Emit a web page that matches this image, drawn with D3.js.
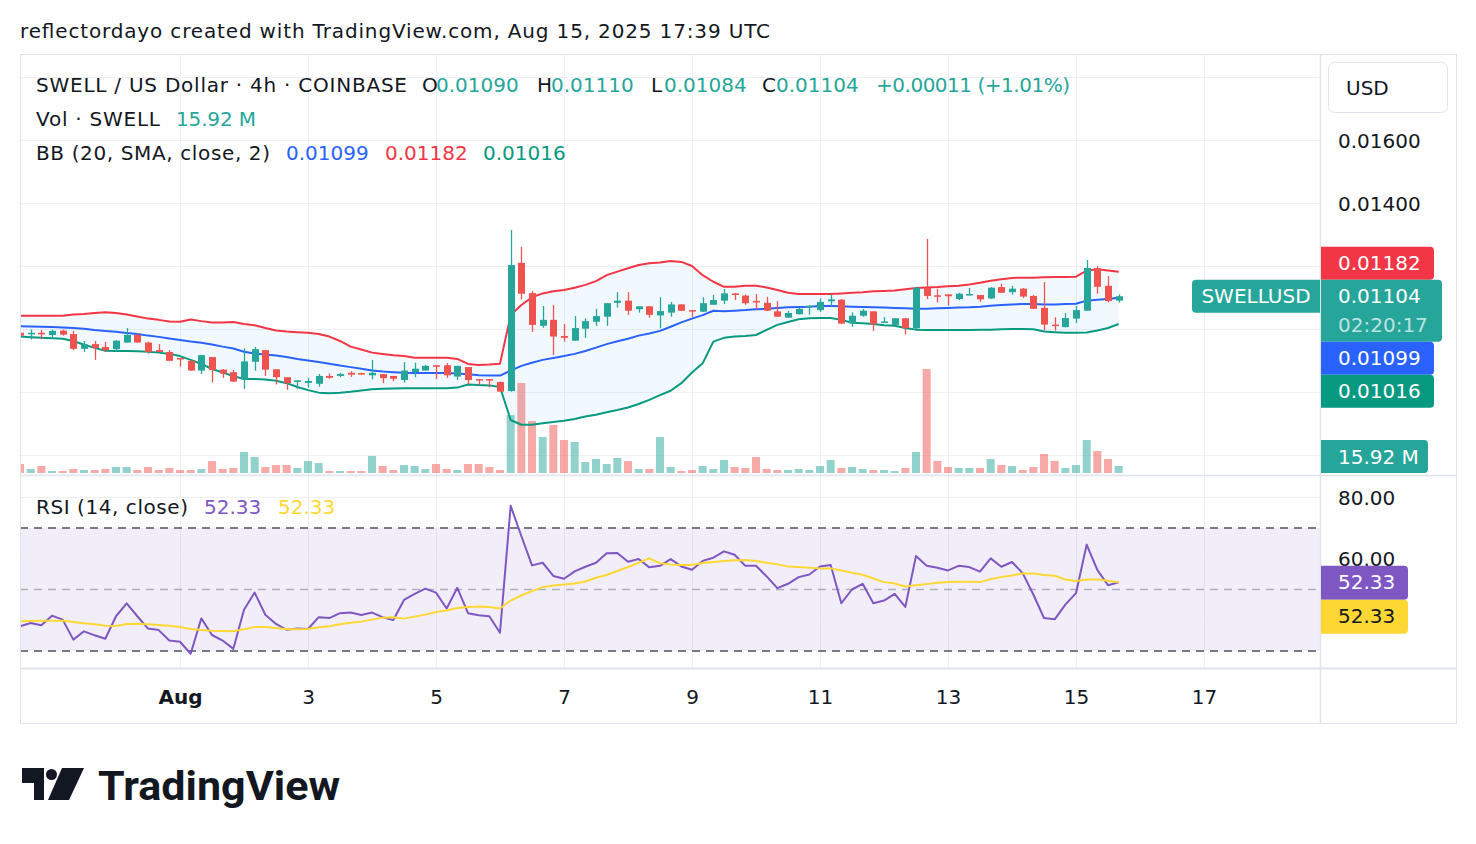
<!DOCTYPE html>
<html><head><meta charset="utf-8">
<script src="https://cdn.jsdelivr.net/npm/d3@7"></script>
<style>
html,body{margin:0;padding:0;background:#fff;}
svg{display:block;font-family:"DejaVu Sans",sans-serif;}
</style></head><body>
<svg id="c" width="1476" height="844"></svg>
<script>
// ---------------- DATA ----------------
const openP = [
0.00988,0.00983,0.00988,0.00981,0.00995,0.00984,0.00937,0.00952,0.00943,0.00936,
0.00957,0.00981,0.00957,0.00933,0.00927,0.00908,0.00899,0.00868,0.00911,0.00871,
0.00863,0.00840,0.00896,0.00933,0.00872,0.00847,0.00832,0.00829,0.00826,0.00851,
0.00851,0.00861,0.00860,0.00853,0.00857,0.00851,0.00838,0.00863,0.00868,0.00885,
0.00885,0.00849,0.00879,0.00841,0.00841,0.00832,0.00803,0.01210,0.01114,0.01010,
0.01029,0.00978,0.00963,0.01001,0.01023,0.01039,0.01083,0.01090,0.01063,0.01072,
0.01043,0.01052,0.01078,0.01060,0.01055,0.01077,0.01090,0.01113,0.01106,0.01089,
0.01083,0.01056,0.01036,0.01047,0.01069,0.01060,0.01088,0.01093,0.01018,0.01042,
0.01056,0.01020,0.01013,0.01034,0.01002,0.01131,0.01107,0.01110,0.01095,0.01107,
0.01108,0.01097,0.01133,0.01117,0.01128,0.01105,0.01067,0.01014,0.01006,0.01033,
0.01058,0.01193,0.01137,0.01090];
const highP = [
0.00989,0.00999,0.00997,0.00998,0.00998,0.00994,0.00962,0.00962,0.00959,0.00965,
0.01003,0.00986,0.00960,0.00952,0.00933,0.00908,0.00900,0.00917,0.00911,0.00873,
0.00870,0.00939,0.00943,0.00933,0.00872,0.00847,0.00838,0.00845,0.00857,0.00859,
0.00861,0.00866,0.00861,0.00902,0.00857,0.00851,0.00895,0.00893,0.00886,0.00885,
0.00892,0.00883,0.00879,0.00841,0.00841,0.00833,0.01314,0.01261,0.01121,0.01073,
0.01076,0.01016,0.01041,0.01034,0.01064,0.01082,0.01117,0.01117,0.01072,0.01073,
0.01101,0.01086,0.01079,0.01060,0.01101,0.01108,0.01127,0.01114,0.01109,0.01111,
0.01102,0.01089,0.01057,0.01068,0.01075,0.01097,0.01110,0.01095,0.01053,0.01064,
0.01057,0.01038,0.01034,0.01034,0.01134,0.01286,0.01128,0.01110,0.01115,0.01130,
0.01108,0.01133,0.01144,0.01137,0.01130,0.01108,0.01149,0.01037,0.01051,0.01073,
0.01219,0.01200,0.01168,0.01110];
const lowP = [
0.00978,0.00967,0.00968,0.00970,0.00979,0.00933,0.00927,0.00902,0.00927,0.00927,
0.00956,0.00956,0.00922,0.00926,0.00898,0.00880,0.00867,0.00857,0.00830,0.00845,
0.00832,0.00810,0.00868,0.00851,0.00824,0.00807,0.00810,0.00814,0.00817,0.00842,
0.00847,0.00848,0.00855,0.00840,0.00828,0.00834,0.00830,0.00847,0.00868,0.00841,
0.00845,0.00838,0.00825,0.00822,0.00815,0.00800,0.00801,0.01094,0.00991,0.01004,
0.00917,0.00960,0.00962,0.00972,0.01010,0.01010,0.01068,0.01045,0.01052,0.01036,
0.01002,0.01039,0.01057,0.01039,0.01054,0.01077,0.01079,0.01092,0.01077,0.01063,
0.01057,0.01038,0.01035,0.01046,0.01045,0.01054,0.01072,0.01016,0.01007,0.01039,
0.00994,0.01020,0.01012,0.00983,0.00999,0.01095,0.01084,0.01074,0.01092,0.01107,
0.01086,0.01095,0.01115,0.01109,0.01099,0.01064,0.00995,0.00995,0.01005,0.01019,
0.01058,0.01112,0.01085,0.01084];
const closeP = [
0.00979,0.00988,0.00983,0.00994,0.00982,0.00937,0.00951,0.00940,0.00933,0.00963,
0.00981,0.00957,0.00927,0.00927,0.00899,0.00905,0.00868,0.00917,0.00870,0.00858,
0.00833,0.00897,0.00936,0.00871,0.00847,0.00828,0.00837,0.00835,0.00851,0.00845,
0.00857,0.00855,0.00856,0.00861,0.00844,0.00842,0.00868,0.00874,0.00883,0.00880,
0.00853,0.00883,0.00838,0.00837,0.00837,0.00801,0.01203,0.01112,0.01013,0.01029,
0.00976,0.00972,0.01003,0.01025,0.01041,0.01082,0.01090,0.01058,0.01072,0.01045,
0.01057,0.01078,0.01058,0.01056,0.01082,0.01092,0.01113,0.01108,0.01082,0.01085,
0.01058,0.01039,0.01051,0.01064,0.01074,0.01086,0.01094,0.01017,0.01042,0.01058,
0.01015,0.01024,0.01034,0.01003,0.01131,0.01105,0.01103,0.01104,0.01112,0.01111,
0.01094,0.01131,0.01115,0.01128,0.01103,0.01064,0.01014,0.01010,0.01035,0.01060,
0.01194,0.01134,0.01089,0.01104];
// volume in millions
const volumeM = [
20.4,9.1,15.9,4.5,4.5,9.1,6.8,6.8,9.1,13.6,
13.6,6.8,13.6,6.8,11.4,6.8,6.8,9.1,27.2,9.1,
11.4,47.7,36.3,13.6,18.2,18.2,11.4,27.2,22.7,4.5,
4.5,4.5,4.5,38.6,15.9,6.8,18.2,15.9,9.1,20.4,
9.1,6.8,20.4,20.4,13.6,6.8,131.7,204.3,118.0,81.7,
109.0,74.9,70.4,25.0,31.8,20.4,34.1,27.2,9.1,9.1,
81.7,13.6,4.5,6.8,15.9,9.1,29.5,13.6,11.4,36.3,
9.1,6.8,6.8,9.1,6.8,15.9,29.5,11.4,13.6,9.1,
6.8,6.8,4.5,11.4,47.7,236.1,27.2,13.6,11.4,11.4,
11.4,31.8,18.2,15.9,6.8,13.6,43.1,27.2,11.4,18.2,
74.9,49.9,31.8,15.92];
const bbUpper = [
0.01042,0.01042,0.01042,0.01042,0.01042,0.01046,0.01048,0.01051,0.01053,0.01051,
0.01046,0.01040,0.01033,0.01029,0.01024,0.01023,0.01030,0.01025,0.01021,0.01021,
0.01022,0.01016,0.01012,0.01003,0.00995,0.00992,0.00990,0.00988,0.00984,0.00976,
0.00962,0.00944,0.00935,0.00925,0.00921,0.00917,0.00914,0.00909,0.00909,0.00909,
0.00909,0.00905,0.00889,0.00886,0.00887,0.00890,0.01044,0.01076,0.01101,0.01113,
0.01120,0.01124,0.01131,0.01140,0.01152,0.01171,0.01182,0.01193,0.01203,0.01209,
0.01211,0.01216,0.01213,0.01200,0.01171,0.01150,0.01134,0.01134,0.01137,0.01137,
0.01132,0.01124,0.01115,0.01111,0.01111,0.01111,0.01111,0.01113,0.01115,0.01117,
0.01120,0.01121,0.01122,0.01126,0.01130,0.01132,0.01133,0.01136,0.01137,0.01141,
0.01147,0.01153,0.01158,0.01162,0.01163,0.01163,0.01164,0.01165,0.01165,0.01166,
0.01185,0.01190,0.01186,0.01182];
const bbBasis = [
0.01009,0.01008,0.01007,0.01006,0.01005,0.01003,0.01001,0.00997,0.00994,0.00991,
0.00987,0.00984,0.00979,0.00975,0.00970,0.00965,0.00960,0.00956,0.00951,0.00944,
0.00938,0.00928,0.00922,0.00919,0.00916,0.00911,0.00905,0.00900,0.00895,0.00890,
0.00884,0.00879,0.00874,0.00868,0.00865,0.00863,0.00861,0.00860,0.00860,0.00860,
0.00860,0.00859,0.00856,0.00853,0.00852,0.00852,0.00868,0.00883,0.00893,0.00902,
0.00908,0.00914,0.00921,0.00930,0.00941,0.00952,0.00961,0.00969,0.00979,0.00986,
0.00994,0.01007,0.01021,0.01033,0.01044,0.01058,0.01056,0.01058,0.01060,0.01063,
0.01064,0.01067,0.01069,0.01070,0.01071,0.01073,0.01073,0.01072,0.01071,0.01070,
0.01069,0.01068,0.01067,0.01066,0.01064,0.01064,0.01066,0.01067,0.01068,0.01069,
0.01071,0.01074,0.01076,0.01078,0.01079,0.01079,0.01078,0.01078,0.01079,0.01080,
0.01090,0.01093,0.01095,0.01099];
const bbLower = [
0.00976,0.00974,0.00972,0.00971,0.00969,0.00962,0.00950,0.00940,0.00931,0.00930,
0.00930,0.00929,0.00928,0.00925,0.00921,0.00914,0.00902,0.00889,0.00873,0.00862,
0.00851,0.00841,0.00841,0.00840,0.00836,0.00828,0.00816,0.00806,0.00798,0.00796,
0.00798,0.00801,0.00805,0.00809,0.00810,0.00811,0.00812,0.00812,0.00812,0.00812,
0.00812,0.00814,0.00824,0.00822,0.00821,0.00816,0.00711,0.00696,0.00696,0.00701,
0.00705,0.00709,0.00714,0.00722,0.00728,0.00736,0.00743,0.00751,0.00762,0.00775,
0.00790,0.00804,0.00828,0.00862,0.00891,0.00960,0.00972,0.00976,0.00978,0.00981,
0.00997,0.01013,0.01022,0.01031,0.01034,0.01035,0.01035,0.01029,0.01020,0.01018,
0.01016,0.01012,0.01010,0.01003,0.00998,0.00997,0.00997,0.00997,0.00997,0.00997,
0.00998,0.00998,0.00999,0.01000,0.01000,0.00999,0.00992,0.00990,0.00988,0.00988,
0.00989,0.00995,0.01003,0.01016];
const rsiVals = [
38.0,39.1,38.35,41.5,40.2,33.7,36.4,35.1,34.0,41.3,
45.5,41.3,37.3,36.8,33.4,33.0,29.1,40.6,35.2,33.4,
30.7,43.4,49.0,41.8,38.8,36.9,37.3,37.15,41.0,40.7,
42.3,42.5,41.7,42.5,41.0,40.1,46.6,48.6,50.3,49.0,
43.8,50.55,42.3,41.6,41.3,35.95,77.2,67.4,57.85,58.7,
54.4,53.5,55.9,57.4,58.7,61.8,61.9,59.05,59.9,57.2,
57.7,59.9,57.5,56.4,59.3,60.35,62.4,61.3,57.7,57.7,
54.25,50.44,51.86,54.03,54.9,57.5,57.96,45.54,50.0,51.86,
45.54,46.4,48.6,44.34,60.9,57.7,57.1,56.2,57.7,57.3,
55.8,60.13,57.4,58.94,55.34,48.37,40.74,40.3,45.1,48.8,
64.6,56.4,51.4,52.33];
const rsiMA = [
39.66,39.76,39.87,39.87,39.87,39.44,39.0,38.68,38.24,38.13,
38.78,38.89,38.68,38.46,38.24,37.8,37.15,36.82,36.6,36.5,
36.39,37.04,37.8,37.8,37.48,37.04,37.04,37.15,37.7,38.02,
38.68,39.22,39.55,40.2,40.85,41.0,40.53,41.18,41.83,42.7,
43.14,44.0,44.34,44.45,44.34,43.8,46.4,48.05,49.46,50.77,
51.3,51.64,51.97,52.6,53.8,54.7,56.0,57.3,58.7,60.13,
58.5,58.17,57.96,57.96,58.6,58.94,59.26,59.48,59.6,59.3,
58.7,58.17,57.5,57.3,57.1,56.87,56.87,56.2,55.45,54.8,
53.6,52.4,51.97,50.98,51.4,51.75,52.18,52.4,52.5,52.5,
52.4,53.38,54.03,54.58,55.23,55.23,54.7,54.47,53.27,52.73,
53.27,53.27,52.84,52.33];

const priceTicks = [0.018,0.016,0.014,0.012,0.010,0.008,0.006];
const priceTickLabels = ["0.01800","0.01600","0.01400","0.01200","0.01000","0.00800","0.00600"];
const rsiTicks = [80,60,40];
const rsiTickLabels = ["80.00","60.00","40.00"];
const rsiLevels = [70,50,30];
const timeTickDays = [1,3,5,7,9,11,13,15,17];
const timeTickLabels = ["Aug","3","5","7","9","11","13","15","17"];
const firstBarUTC = Date.UTC(2025,6,29,12); // Jul 29 12:00
const barHours = 4;

// ---------------- SETUP ----------------
const C = {up:"#26a69a", down:"#ef5350", upVol:"rgba(38,166,154,0.5)", downVol:"rgba(239,83,80,0.5)",
  bbU:"#f23645", bbM:"#2962ff", bbL:"#089981", rsi:"#7e57c2", ma:"#fdd835", text:"#131722",
  grid:"#eef0f3", border:"#e0e3eb"};
const L=20, R=1320, AX=1456, TOP=54, PB=475, RB=668, BOT=723;

const svg = d3.select("#c");
const times = openP.map((_,i)=> new Date(firstBarUTC + i*barHours*3600e3));
const x = d3.scaleUtc().domain([new Date(Date.UTC(2025,7,1)), new Date(Date.UTC(2025,7,17))]).range([180,1204]);
const y = d3.scaleLinear().domain([0.006,0.018]).range([455,77]);
const yv = d3.scaleLinear().domain([0,240]).range([473, 473-240/2.27]);
const yr = d3.scaleLinear().domain([30,70]).range([651,528]);
const bars = openP.map((o,i)=>({t:times[i],o,h:highP[i],l:lowP[i],c:closeP[i],v:volumeM[i],
  bu:bbUpper[i],bm:bbBasis[i],bl:bbLower[i],r:rsiVals[i],m:rsiMA[i]}));
const last = bars[bars.length-1];
const f5 = d3.format(".5f"), f2 = d3.format(".2f");

const defs = svg.append("defs");
defs.append("clipPath").attr("id","cp").append("rect").attr("x",L).attr("y",TOP).attr("width",R-L).attr("height",PB-TOP);
defs.append("clipPath").attr("id","cr").append("rect").attr("x",L).attr("y",PB).attr("width",R-L).attr("height",RB-PB);

svg.append("rect").attr("width",1476).attr("height",844).attr("fill","#fff");

function seg(xp,yp,txt,col,len){const t=svg.append("text").attr("x",xp).attr("y",yp).attr("dominant-baseline","central")
  .attr("font-size",20).attr("fill",col||C.text).text(txt);
  if(len) t.attr("textLength",len).attr("lengthAdjust","spacing"); return t;}

// title
seg(20,31,"reflectordayo created with TradingView.com, Aug 15, 2025 17:39 UTC",C.text,750);

// grid
const grid = svg.append("g");
grid.selectAll(".hg").data(priceTicks).join("line")
  .attr("x1",L).attr("x2",R).attr("y1",d=>Math.round(y(d))+0.5).attr("y2",d=>Math.round(y(d))+0.5)
  .attr("stroke",C.grid).attr("stroke-width",1);
grid.selectAll(".vg").data(timeTickDays).join("line")
  .attr("x1",d=>Math.round(x(new Date(Date.UTC(2025,7,d))))+0.5).attr("x2",d=>Math.round(x(new Date(Date.UTC(2025,7,d))))+0.5)
  .attr("y1",TOP).attr("y2",RB).attr("stroke",C.grid).attr("stroke-width",1);

// ---------- price pane ----------
const pp = svg.append("g").attr("clip-path","url(#cp)");
const bw = 7, vw = 8;
pp.selectAll(".vol").data(bars).join("rect")
  .attr("x",d=>x(d.t)-vw/2).attr("width",vw)
  .attr("y",d=>yv(d.v)).attr("height",d=>yv(0)-yv(d.v))
  .attr("fill",d=>d.c>=d.o?C.upVol:C.downVol);

pp.append("path").datum(bars)
  .attr("d",d3.area().x(d=>x(d.t)).y0(d=>y(d.bl)).y1(d=>y(d.bu)))
  .attr("fill","rgba(33,150,243,0.06)");
[["bu",C.bbU],["bm",C.bbM],["bl",C.bbL]].forEach(([k,col])=>{
  pp.append("path").datum(bars).attr("d",d3.line().x(d=>x(d.t)).y(d=>y(d[k])))
    .attr("fill","none").attr("stroke",col).attr("stroke-width",2).attr("stroke-linejoin","round");
});
const cg = pp.append("g");
cg.selectAll(".wick").data(bars).join("line")
  .attr("x1",d=>Math.round(x(d.t))+0.5).attr("x2",d=>Math.round(x(d.t))+0.5)
  .attr("y1",d=>y(d.h)).attr("y2",d=>y(d.l))
  .attr("stroke",d=>d.c>=d.o?C.up:C.down).attr("stroke-width",1.3);
cg.selectAll(".body").data(bars).join("rect")
  .attr("x",d=>Math.round(x(d.t))+0.5-bw/2).attr("width",bw)
  .attr("y",d=>y(Math.max(d.o,d.c)))
  .attr("height",d=>Math.max(1.5,Math.abs(y(d.o)-y(d.c))))
  .attr("fill",d=>d.c>=d.o?C.up:C.down);

// ---------- RSI pane ----------
const rp = svg.append("g").attr("clip-path","url(#cr)");
rp.append("rect").attr("x",L).attr("width",R-L).attr("y",yr(70)).attr("height",yr(30)-yr(70))
  .attr("fill","rgba(126,87,194,0.1)");
rp.selectAll(".rg").data(rsiTicks).join("line")
  .attr("x1",L).attr("x2",R).attr("y1",d=>Math.round(yr(d))+0.5).attr("y2",d=>Math.round(yr(d))+0.5)
  .attr("stroke",C.grid);
rp.selectAll(".rl").data(rsiLevels).join("line")
  .attr("x1",L).attr("x2",R).attr("y1",d=>yr(d)).attr("y2",d=>yr(d))
  .attr("stroke",d=>d===50?"rgba(120,123,134,0.55)":"#787b86")
  .attr("stroke-width",d=>d===50?1.5:2).attr("stroke-dasharray","8,6");
rp.append("path").datum(bars).attr("d",d3.line().x(d=>x(d.t)).y(d=>yr(d.r)))
  .attr("fill","none").attr("stroke",C.rsi).attr("stroke-width",2).attr("stroke-linejoin","round");
rp.append("path").datum(bars).attr("d",d3.line().x(d=>x(d.t)).y(d=>yr(d.m)))
  .attr("fill","none").attr("stroke",C.ma).attr("stroke-width",2).attr("stroke-linejoin","round");

// ---------- frame ----------
const fr = svg.append("g").attr("fill","none").attr("stroke",C.border);
fr.append("rect").attr("x",L+0.5).attr("y",TOP+0.5).attr("width",AX-L).attr("height",BOT-TOP);
fr.append("line").attr("x1",L).attr("x2",AX).attr("y1",PB+0.5).attr("y2",PB+0.5).attr("stroke-width",1.5);
fr.append("line").attr("x1",L).attr("x2",AX).attr("y1",RB+0.5).attr("y2",RB+0.5).attr("stroke-width",2);
fr.append("line").attr("x1",R+0.5).attr("x2",R+0.5).attr("y1",TOP).attr("y2",BOT).attr("stroke-width",1.5);

// ---------- right-side label layout (TradingView style stacking) ----------
const BH=33;
const pTop = y(last.c)-16.5, pBot = pTop+62;
const upTop = Math.min(y(last.bu)-BH/2, pTop-BH);
const midTop = Math.max(y(last.bm)-BH/2, pBot);
const lowTop = Math.max(y(last.bl)-BH/2, midTop+BH);
const vTop = Math.min(yv(last.v)-BH/2, 473-BH);
const rTop = yr(last.r)-BH/2;
const covered = [[62,113],[upTop,upTop+BH],[pTop,pBot],[midTop,midTop+BH],[lowTop,lowTop+BH],[vTop,vTop+BH],[rTop+6,rTop+68]];
const isFree = v => !covered.some(([a,b])=> v>a-6 && v<b+6);

// ---------- axes ----------
const pTicksShown = priceTicks.filter(d=>isFree(y(d)));
const rTicksShown = rsiTicks.filter(d=>isFree(yr(d)));
const pax = svg.append("g").attr("transform",`translate(1338,0)`)
  .call(d3.axisRight(y).tickValues(pTicksShown).tickFormat(d=>priceTickLabels[priceTicks.indexOf(d)]).tickSize(0).tickPadding(0));
const rax = svg.append("g").attr("transform",`translate(1338,0)`)
  .call(d3.axisRight(yr).tickValues(rTicksShown).tickFormat(d=>rsiTickLabels[rsiTicks.indexOf(d)]).tickSize(0).tickPadding(0));
[pax,rax].forEach(a=>{a.select(".domain").remove();
  a.selectAll("text").attr("font-size",20).attr("fill",C.text).attr("font-family","DejaVu Sans").attr("dy","0.35em");});
const tax = svg.append("g").attr("transform","translate(0,697)")
  .call(d3.axisBottom(x).tickValues(timeTickDays.map(d=>new Date(Date.UTC(2025,7,d))))
    .tickFormat((d,i)=>timeTickLabels[i]).tickSize(0).tickPadding(0));
tax.select(".domain").remove();
tax.selectAll("text").attr("y",0).attr("dy","0.35em").attr("font-size",20).attr("fill",C.text)
  .attr("font-family","DejaVu Sans").attr("font-weight",(d,i)=>i===0?"bold":"normal");

// ---------- legends ----------
seg(36,85,"SWELL / US Dollar · 4h · COINBASE",C.text,371);
seg(422,85,"O"); seg(436,85,f5(last.o),C.up);
seg(537,85,"H"); seg(551,85,f5(last.h),C.up);
seg(651,85,"L"); seg(664,85,f5(last.l),C.up);
seg(762,85,"C"); seg(776,85,f5(last.c),C.up);
seg(876,85,"+0.00011 (+1.01%)",C.up,194);
seg(36,119,"Vol · SWELL",C.text,124); seg(176,119,"15.92 M",C.up,80);
seg(36,153,"BB (20, SMA, close, 2)",C.text,234); seg(286,153,f5(last.bm),C.bbM); seg(385,153,f5(last.bu),C.bbU); seg(483,153,f5(last.bl),C.bbL);
seg(36,507,"RSI (14, close)",C.text,152); seg(204,507,f2(last.r),C.rsi); seg(278,507,f2(last.m),C.ma);

// ---------- right labels ----------
function box(x0,y0,w,h,fill,lines,tcol){
  const g=svg.append("g");
  g.append("path").attr("d",`M${x0},${y0}H${x0+w-4}Q${x0+w},${y0} ${x0+w},${y0+4}V${y0+h-4}Q${x0+w},${y0+h} ${x0+w-4},${y0+h}H${x0}Z`).attr("fill",fill);
  lines.forEach((ln,k)=>g.append("text").attr("x",1338).attr("y",y0+16.5+k*29).attr("dominant-baseline","central")
    .attr("font-size",20).attr("fill",ln.c||tcol||"#fff").text(ln.t));
}
svg.append("rect").attr("x",1328.5).attr("y",62.5).attr("width",119).attr("height",50).attr("rx",6)
  .attr("fill","#fff").attr("stroke",C.border);
svg.append("text").attr("x",1346).attr("y",88).attr("dominant-baseline","central").attr("font-size",20).attr("fill",C.text).text("USD");

box(1321,upTop,113,BH,C.bbU,[{t:f5(last.bu)}]);
box(1321,pTop,121,62,C.up,[{t:f5(last.c)},{t:"02:20:17",c:"rgba(255,255,255,0.7)"}]);
box(1321,midTop,113,BH,C.bbM,[{t:f5(last.bm)}]);
box(1321,lowTop,113,BH,C.bbL,[{t:f5(last.bl)}]);
box(1321,vTop,107,BH,C.up,[{t:"15.92 M"}]);
svg.append("path").attr("d",`M1196,${pTop}H1320V${pTop+BH}H1196Q1192,${pTop+BH} 1192,${pTop+BH-4}V${pTop+4}Q1192,${pTop} 1196,${pTop}Z`).attr("fill",C.up);
svg.append("text").attr("x",1256).attr("y",pTop+16.5).attr("text-anchor","middle").attr("dominant-baseline","central")
  .attr("font-size",20).attr("fill","#fff").text("SWELLUSD");
box(1321,rTop,87,34,C.rsi,[{t:f2(last.r)}]);
box(1321,rTop+34,87,34,C.ma,[{t:f2(last.m)}],C.text);

// ---------- logo ----------
const lg = svg.append("g").attr("fill",C.text);
lg.append("path").attr("d","M22,768H44V800H34V783H22Z");
lg.append("circle").attr("cx",51.5).attr("cy",774.5).attr("r",5.5);
lg.append("path").attr("d","M62,768H84L69,800H48Z");
lg.append("text").attr("x",98).attr("y",800).attr("font-size",40).attr("font-weight","bold")
  .attr("font-family","Roboto").attr("textLength",242).attr("lengthAdjust","spacingAndGlyphs").text("TradingView");
</script>
</body></html>
